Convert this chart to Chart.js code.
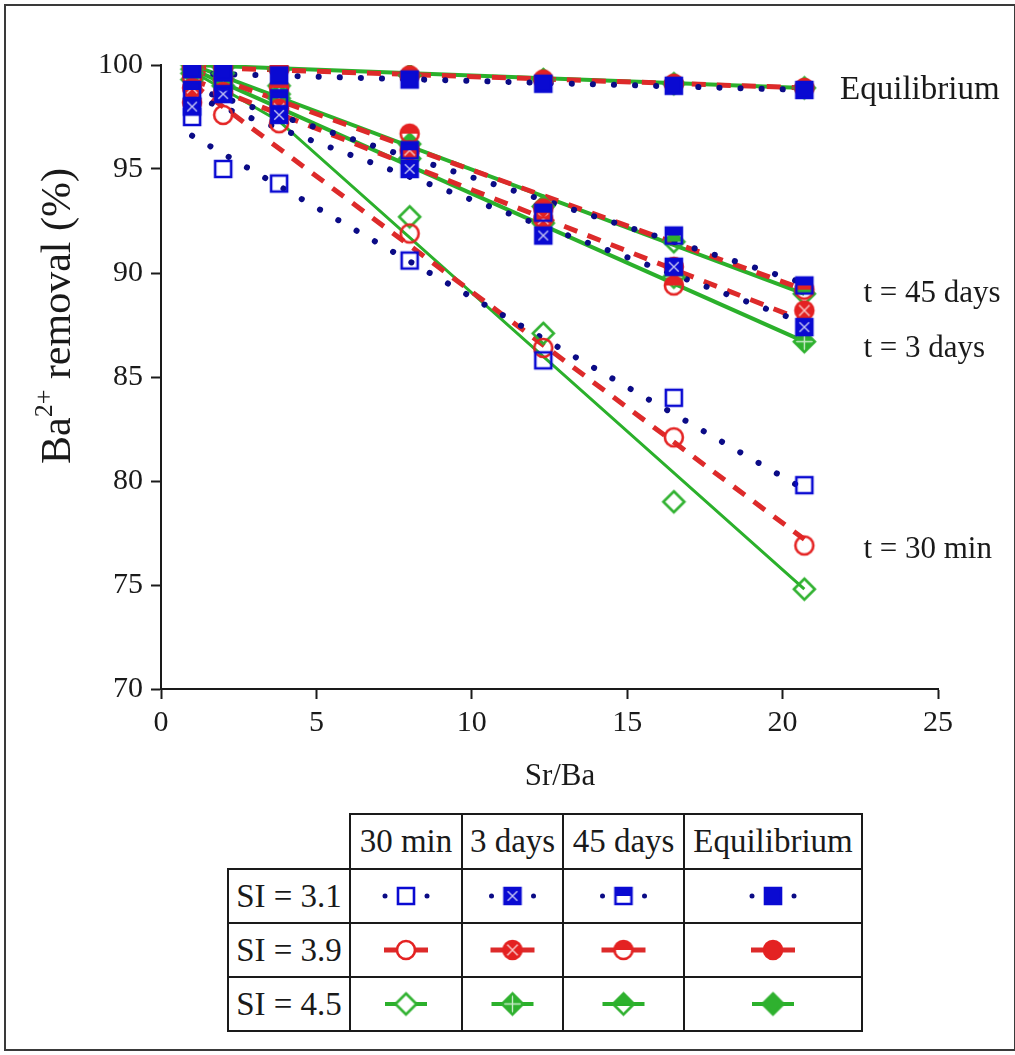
<!DOCTYPE html>
<html>
<head>
<meta charset="utf-8">
<script src="https://cdn.jsdelivr.net/npm/chart.js@4/dist/chart.umd.min.js"></script>
<style>
  html, body { margin: 0; padding: 0; background: #fff; }
  body { width: 1015px; height: 1055px; position: relative; overflow: hidden; font-family: "Liberation Serif", serif; }
  #frame { position: absolute; left: 4px; top: 4px; width: 1012px; height: 1047px; border: 2px solid #3a3a3a; box-sizing: border-box; }
  #wrap { position: absolute; left: 0; top: 0; width: 1015px; height: 800px; }
  table { position: absolute; left: 227px; top: 813px; border-collapse: collapse; font-family: "Liberation Serif", serif; font-size: 33px; color: #1a1a1a; table-layout: fixed; }
  td { border: 2px solid #1a1a1a; padding: 0; text-align: center; vertical-align: middle; overflow: hidden; white-space: nowrap; }
  td.blank { border-top: none; border-left: none; }
  td canvas { display: block; margin: 0 auto; }
</style>
</head>
<body>
<div id="frame"></div>
<div id="wrap"><canvas id="c" width="1015" height="800"></canvas></div>
<table id="legend"></table>
<script>
// ---------- data ----------
const xVals = [1, 2, 3.8, 8, 12.3, 16.5, 20.7];
const xTicks = [0, 5, 10, 15, 20, 25];
const yTicks = [70, 75, 80, 85, 90, 95, 100];
const timeLabels = ["30 min", "3 days", "45 days", "Equilibrium"];
const siLabels = ["SI = 3.1", "SI = 3.9", "SI = 4.5"];
const curveLabels = ["Equilibrium", "t = 45 days", "t = 3 days", "t = 30 min"];

// measured removal (%) — SI = 3.1
const si31_30min = [97.5, 95.0, 94.3, 90.6, 85.8, 84.0, 79.8];
const si31_3d    = [98.0, 98.6, 97.6, 95.0, 91.8, 90.3, 87.4];
const si31_45d   = [98.8, 99.2, 98.4, 95.9, 92.9, 91.8, 89.4];
const si31_eq    = [99.8, 99.7, 99.5, 99.3, 99.1, 99.0, 98.8];
// SI = 3.9
const si39_30min = [98.2, 97.6, 97.2, 91.9, 86.4, 82.1, 76.9];
const si39_3d    = [98.9, 98.7, 97.9, 95.9, 92.6, 90.3, 88.2];
const si39_45d   = [99.4, 99.3, 98.9, 96.7, 93.1, 89.4, 89.2];
const si39_eq    = [99.9, 99.9, 99.8, 99.5, 99.3, 99.1, 98.9];
// SI = 4.5
const si45_30min = [99.3, 99.0, 98.4, 92.7, 87.1, 79.0, 74.8];
const si45_3d    = [99.6, 99.3, 98.6, 95.5, 92.4, 89.8, 86.7];
const si45_45d   = [99.8, 99.6, 99.0, 96.2, 93.2, 91.5, 89.0];
const si45_eq    = [100.0, 99.9, 99.8, 99.5, 99.3, 99.1, 98.9];

// fitted trend lines (end points)
const fitX = [1, 20.7];
const fit31_30min = [96.6, 79.6];
const fit31_3d    = [98.5, 87.6];
const fit31_45d   = [98.9, 89.5];
const fit31_eq    = [99.6, 98.8];
const fit39_30min = [99.1, 77.2];
const fit39_3d    = [99.3, 87.7];
const fit39_45d   = [99.8, 89.2];
const fit39_eq    = [99.9, 98.9];
const fit45X_30min = [1, 3.8, 20.7];
const fit45_30min = [99.7, 97.3, 74.8];
const fit45_3d    = [99.8, 86.7];
const fit45_45d   = [100.0, 89.0];
const fit45_eq    = [100.0, 98.9];

// annotation anchors (x, y in data units)
const curveLabelX = [21.85, 22.6, 22.6, 22.6];
const curveLabelY = [98.8, 89.0, 86.35, 76.7];

// ---------- styles ----------
const BLUE = '#0a0ad2', BLUE_LINE = '#0b0b86';
const RED = '#e42222', RED_LINE = '#dd2a2a';
const GREEN = '#2fb12f', GREEN_LINE = '#2bb02b';

function marker(shape, kind, color, s) {
  const pad = 3, W = s + pad * 2;
  const c = document.createElement('canvas');
  c.width = W; c.height = W;
  const g = c.getContext('2d');
  const m = W / 2, r = s / 2;
  const path = () => {
    g.beginPath();
    if (shape === 'square') g.rect(m - r, m - r, s, s);
    else if (shape === 'circle') g.arc(m, m, r, 0, Math.PI * 2);
    else { g.moveTo(m, m - r); g.lineTo(m + r, m); g.lineTo(m, m + r); g.lineTo(m - r, m); g.closePath(); }
  };
  g.lineWidth = 2.6; g.strokeStyle = color; g.fillStyle = color;
  if (kind === 'full' || kind === 'cross') { path(); g.fill(); }
  if (kind === 'half') {
    g.save(); path(); g.clip(); g.fillRect(0, 0, W, m); g.restore();
  }
  if (kind === 'cross') {
    g.save(); path(); g.clip();
    g.strokeStyle = 'rgba(255,255,255,0.75)'; g.lineWidth = 1.4; g.beginPath();
    if (shape === 'diamond') { g.moveTo(m, m - r); g.lineTo(m, m + r); g.moveTo(m - r, m); g.lineTo(m + r, m); }
    else { const q = r * 0.6; g.moveTo(m - q, m - q); g.lineTo(m + q, m + q); g.moveTo(m + q, m - q); g.lineTo(m - q, m + q); }
    g.stroke(); g.restore();
  }
  path(); g.stroke();
  return c;
}

const kinds = ['open', 'cross', 'half', 'full'];
const groups = [
  { shape: 'square', color: BLUE, lineColor: BLUE_LINE, size: 16, order: 1,
    data: [si31_30min, si31_3d, si31_45d, si31_eq],
    fits: [[fitX, fit31_30min], [fitX, fit31_3d], [fitX, fit31_45d], [fitX, fit31_eq]],
    line: { borderDash: [0.1, 21], borderWidth: 6, borderCapStyle: 'round' } },
  { shape: 'circle', color: RED, lineColor: RED_LINE, size: 18, order: 2,
    data: [si39_30min, si39_3d, si39_45d, si39_eq],
    fits: [[fitX, fit39_30min], [fitX, fit39_3d], [fitX, fit39_45d], [fitX, fit39_eq]],
    line: { borderDash: [14, 11], borderWidth: 5, borderCapStyle: 'butt' } },
  { shape: 'diamond', color: GREEN, lineColor: GREEN_LINE, size: 21, order: 3,
    data: [si45_30min, si45_3d, si45_45d, si45_eq],
    fits: [[fit45X_30min, fit45_30min], [fitX, fit45_3d], [fitX, fit45_45d], [fitX, fit45_eq]],
    line: { borderDash: [], borderWidth: 3.5, borderCapStyle: 'butt' } },
];

const toPts = (xs, ys) => xs.map((x, i) => ({ x: x, y: ys[i] }));
const datasets = [];
groups.forEach(gp => {
  gp.fits.forEach((f, k) => {
    datasets.push(Object.assign({
      type: 'line', data: toPts(f[0], f[1]), showLine: true, pointRadius: 0,
      borderColor: gp.lineColor, fill: false, tension: 0, order: 10,
    }, gp.line, gp.shape === 'diamond' ? { borderWidth: k === 0 ? 3 : 4 } : {}));
  });
});
groups.forEach(gp => {
  gp.data.forEach((ys, k) => {
    datasets.push({
      type: 'scatter', data: toPts(xVals, ys), showLine: false,
      pointStyle: marker(gp.shape, kinds[k], gp.color, gp.size),
      pointRadius: gp.size / 2, order: gp.order + (3 - k) * 0.1,
    });
  });
});

const textPlugin = {
  id: 'texts',
  afterDraw(chart) {
    const ctx = chart.ctx, xs = chart.scales.x, ys = chart.scales.y;
    ctx.save();
    ctx.fillStyle = '#1a1a1a';
    // x title
    ctx.font = '31px "Liberation Serif"';
    ctx.textAlign = 'center'; ctx.textBaseline = 'middle';
    ctx.fillText('Sr/Ba', 560, 777);
    // y title with superscript
    ctx.save();
    ctx.translate(56, 316);
    ctx.rotate(-Math.PI / 2);
    const big = '42px "Liberation Serif"', small = '26px "Liberation Serif"';
    ctx.font = big; const w1 = ctx.measureText('Ba').width, w3 = ctx.measureText(' removal (%)').width;
    ctx.font = small; const w2 = ctx.measureText('2+').width;
    let x0 = -(w1 + w2 + w3) / 2;
    ctx.textAlign = 'left'; ctx.textBaseline = 'alphabetic';
    ctx.font = big; ctx.fillText('Ba', x0, 14);
    ctx.font = small; ctx.fillText('2+', x0 + w1, -4);
    ctx.font = big; ctx.fillText(' removal (%)', x0 + w1 + w2, 14);
    ctx.restore();
    // curve annotations
    ctx.textAlign = 'left'; ctx.textBaseline = 'middle';
    curveLabels.forEach((t, i) => {
      ctx.font = (i === 0 ? '33px' : '31px') + ' "Liberation Serif"';
      ctx.fillText(t, xs.getPixelForValue(curveLabelX[i]), ys.getPixelForValue(curveLabelY[i]));
    });
    ctx.restore();
  }
};

new Chart(document.getElementById('c'), {
  type: 'scatter',
  data: { datasets },
  options: {
    responsive: false, animation: false, devicePixelRatio: 1,
    layout: { padding: { left: 0, right: 77, top: 65, bottom: 1 } },
    plugins: { legend: { display: false }, tooltip: { enabled: false } },
    scales: {
      x: {
        type: 'linear', min: 0, max: 25,
        afterBuildTicks: s => { s.ticks = xTicks.map(v => ({ value: v })); },
        afterFit: s => { s.height = 110; },
        grid: { drawOnChartArea: false, drawTicks: true, tickLength: 10, tickWidth: 2, tickColor: '#1a1a1a' },
        border: { display: true, color: '#1a1a1a', width: 2 },
        ticks: { color: '#1a1a1a', font: { family: 'Liberation Serif', size: 30 }, padding: 6, maxRotation: 0 },
      },
      y: {
        type: 'linear', min: 70, max: 100,
        afterBuildTicks: s => { s.ticks = yTicks.map(v => ({ value: v })); },
        afterFit: s => { s.width = 161; },
        grid: { drawOnChartArea: false, drawTicks: true, tickLength: 10, tickWidth: 2, tickColor: '#1a1a1a' },
        border: { display: true, color: '#1a1a1a', width: 2 },
        ticks: { color: '#1a1a1a', font: { family: 'Liberation Serif', size: 30 }, padding: 8 },
      }
    }
  },
  plugins: [textPlugin]
});

// ---------- legend table ----------
const colW = [121, 110, 99, 119, 176];
const rowH = [55, 54, 54, 54];
const tbl = document.getElementById('legend');
function legendSym(gi, k, w) {
  const gp = groups[gi];
  const c = document.createElement('canvas');
  c.width = w; c.height = 40;
  const g = c.getContext('2d');
  const cx = w / 2, cy = 20;
  if (gi === 0) {
    g.fillStyle = BLUE_LINE;
    [-21, 21].forEach(d => { g.beginPath(); g.arc(cx + d, cy, 2.5, 0, Math.PI * 2); g.fill(); });
  } else if (gi === 1) {
    g.strokeStyle = RED_LINE; g.lineWidth = 5;
    g.beginPath(); g.moveTo(cx - 22, cy); g.lineTo(cx - 8, cy); g.moveTo(cx + 8, cy); g.lineTo(cx + 22, cy); g.stroke();
  } else {
    g.strokeStyle = GREEN_LINE; g.lineWidth = 4;
    g.beginPath(); g.moveTo(cx - 21, cy); g.lineTo(cx + 21, cy); g.stroke();
  }
  const m = marker(gp.shape, kinds[k], gp.color, gp.size);
  if (k === 0) { // open marker: clear inside so line does not show
    g.save(); g.fillStyle = '#fff'; g.beginPath();
    if (gp.shape === 'circle') g.arc(cx, cy, gp.size / 2, 0, Math.PI * 2);
    else if (gp.shape === 'square') g.rect(cx - gp.size / 2, cy - gp.size / 2, gp.size, gp.size);
    else { const r = gp.size / 2; g.moveTo(cx, cy - r); g.lineTo(cx + r, cy); g.lineTo(cx, cy + r); g.lineTo(cx - r, cy); g.closePath(); }
    g.fill(); g.restore();
  }
  g.drawImage(m, cx - m.width / 2, cy - m.height / 2);
  return c;
}
// header row
let tr = document.createElement('tr');
tr.style.height = rowH[0] + 'px';
let td = document.createElement('td'); td.className = 'blank'; td.style.width = colW[0] + 'px'; tr.appendChild(td);
timeLabels.forEach((t, i) => {
  td = document.createElement('td'); td.textContent = t; td.style.width = colW[i + 1] + 'px'; tr.appendChild(td);
});
tbl.appendChild(tr);
siLabels.forEach((s, gi) => {
  tr = document.createElement('tr'); tr.style.height = rowH[gi + 1] + 'px';
  td = document.createElement('td'); td.textContent = s; tr.appendChild(td);
  timeLabels.forEach((t, k) => {
    td = document.createElement('td');
    td.appendChild(legendSym(gi, k, colW[k + 1] - 8));
    tr.appendChild(td);
  });
  tbl.appendChild(tr);
});
</script>
</body>
</html>
